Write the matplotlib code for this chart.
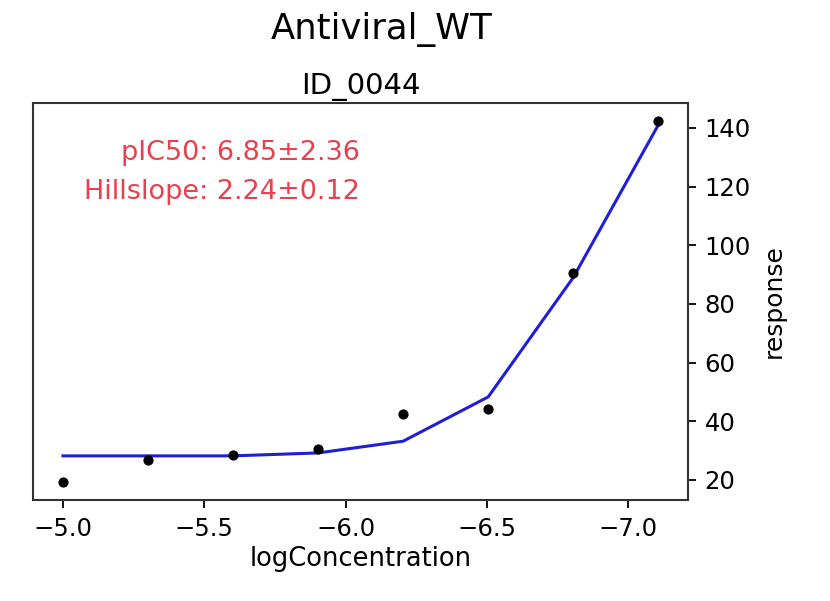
import numpy as np
import matplotlib.pyplot as plt

# dose-response data (log concentration vs response)
log_conc = [-5.0, -5.301, -5.602, -5.903, -6.204, -6.505, -6.806, -7.107]
response = [19.3, 26.9, 28.6, 30.6, 42.6, 44.3, 90.6, 142.4]
fit_response = [28.2, 28.2, 28.2, 29.2, 33.2, 48.3, 89.0, 141.0]

title = 'Antiviral_WT'
subtitle = 'ID_0044'
pic50_text = 'pIC50: 6.85±2.36'
hill_text = 'Hillslope: 2.24±0.12'
x_ticks = [-5.0, -5.5, -6.0, -6.5, -7.0]
y_ticks = [20, 40, 60, 80, 100, 120, 140]

fig = plt.figure(figsize=(8.3, 6.01), dpi=100)
ax = fig.add_axes([0.04, 0.168, 0.789, 0.661])

ax.plot(log_conc, fit_response, color='#1f1fd6', linewidth=2.2, zorder=2)
ax.scatter(log_conc, response, color='black', s=40, zorder=3)

ax.invert_xaxis()
ax.yaxis.tick_right()
ax.yaxis.set_label_position('right')
ax.set_xticks(x_ticks)
ax.set_xticklabels(['\u2212%.1f' % abs(v) for v in x_ticks])
ax.set_yticks(y_ticks)
ax.tick_params(labelsize=17.5, length=6, width=1.3, pad=6)

ax.set_xlabel('logConcentration', fontsize=18.5, labelpad=4)
ax.set_ylabel('response', fontsize=18, rotation=90, labelpad=8)
ax.set_title(subtitle, fontsize=21, pad=6)
fig.suptitle(title, fontsize=25.5, x=0.46, y=0.98)

ax.text(0.499, 0.874, pic50_text, transform=ax.transAxes, ha='right',
        va='center', color='#e8404c', fontsize=19.5)
ax.text(0.499, 0.776, hill_text, transform=ax.transAxes, ha='right',
        va='center', color='#e8404c', fontsize=19.5)

for spine in ax.spines.values():
    spine.set_linewidth(1.5)
    spine.set_color('#333333')

fig.savefig('out.png', dpi=100)
